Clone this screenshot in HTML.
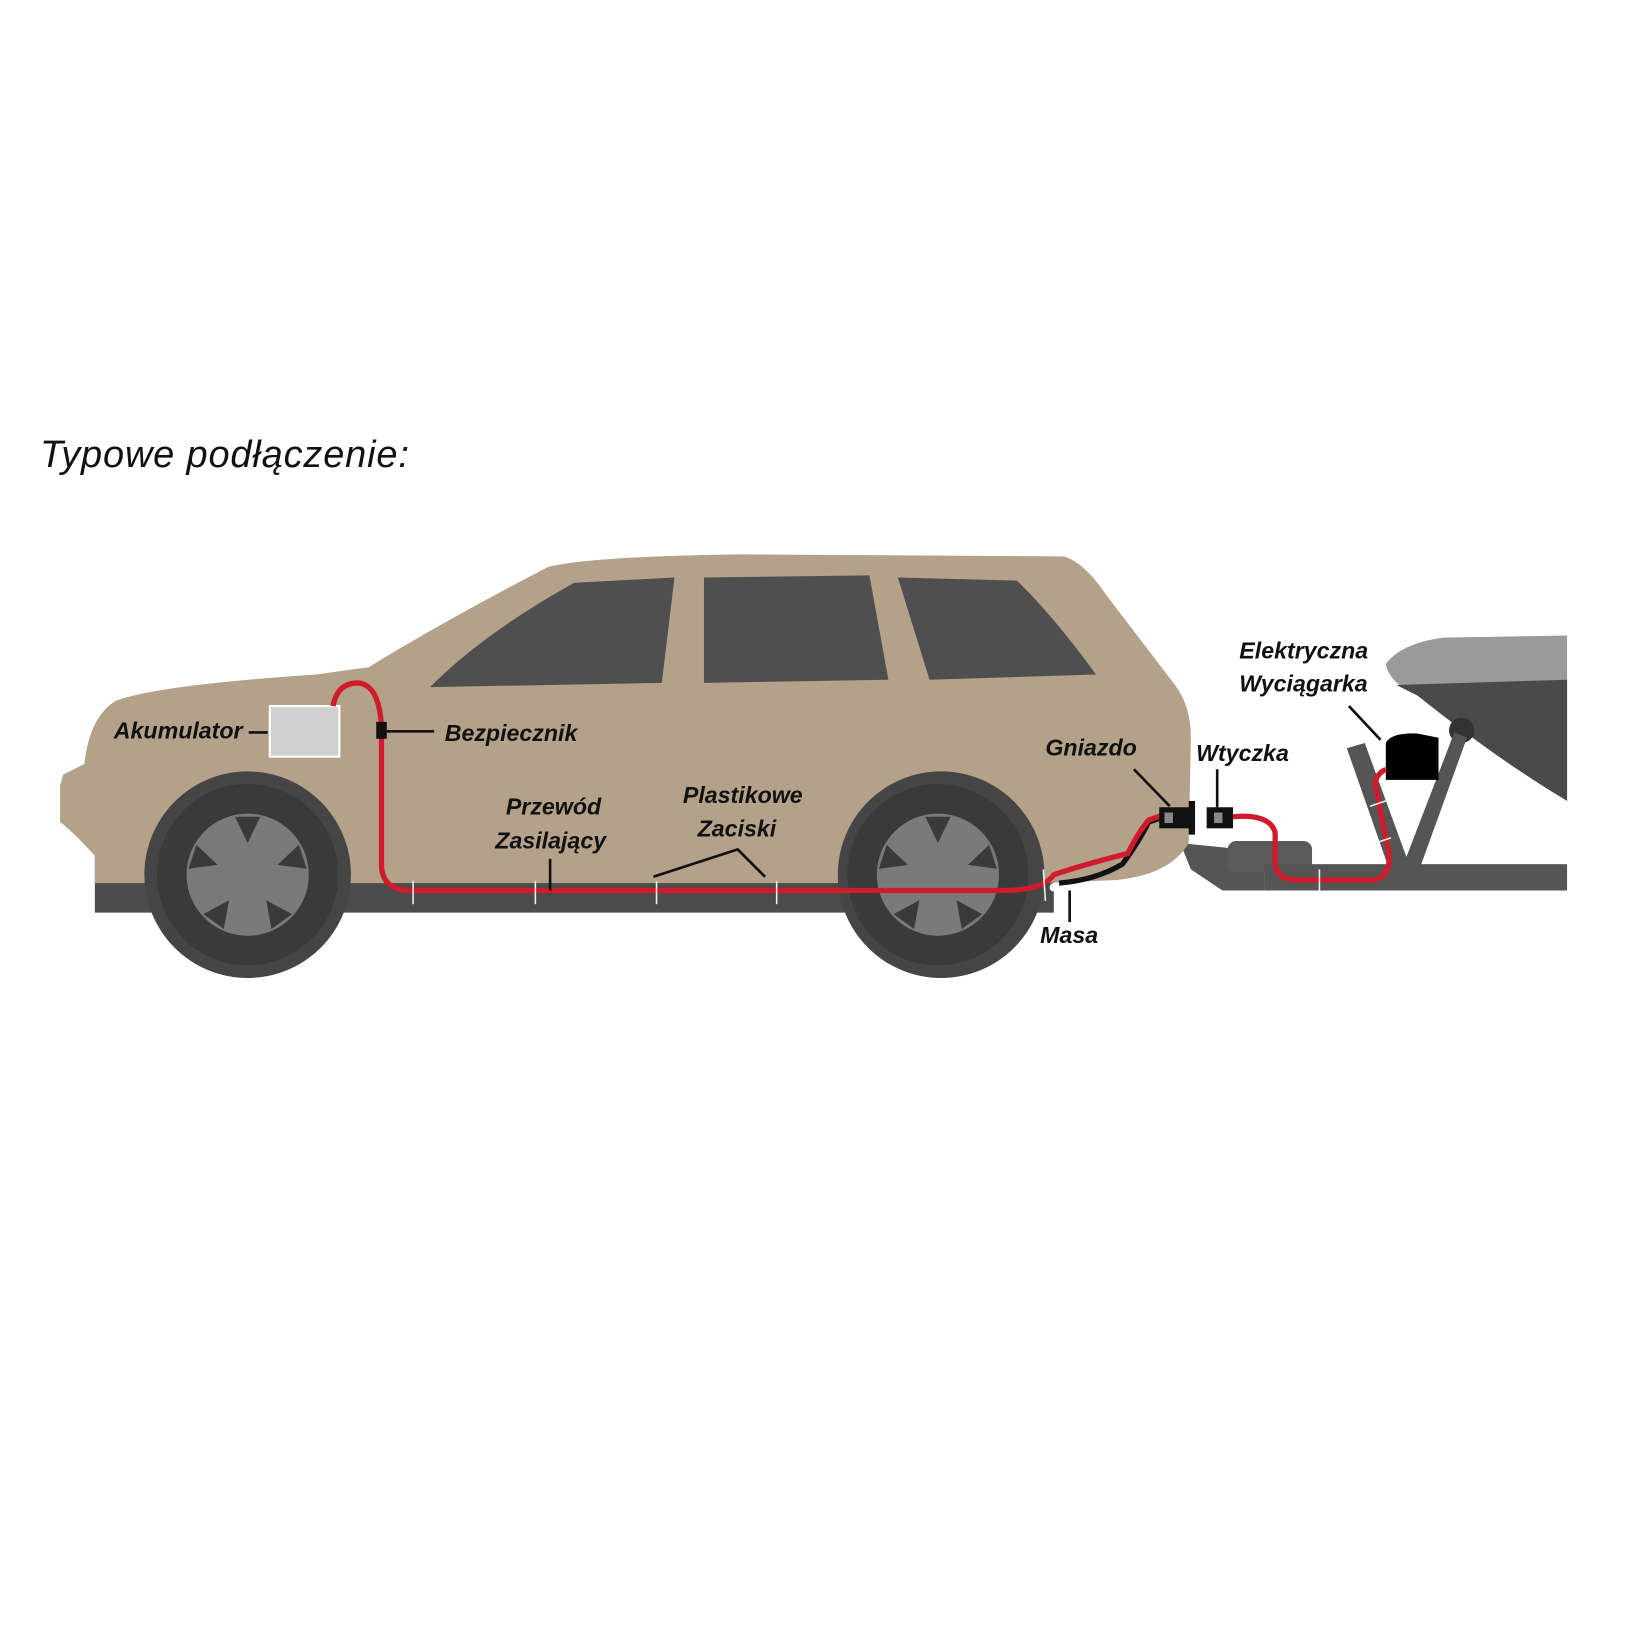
<!DOCTYPE html>
<html><head><meta charset="utf-8"><style>html,body{margin:0;padding:0;background:#fff;width:1644px;height:1644px;overflow:hidden}</style></head>
<body>
<svg width="1644" height="1644" viewBox="0 0 1560 1560" xmlns="http://www.w3.org/2000/svg" font-family="Liberation Sans, sans-serif">
<defs>
<g id="sp" fill="#3a3a3a"><path d="M0 -30 l-12 -25 h24 z"/><path d="M0 -30 l-12 -25 h24 z" transform="rotate(72)"/><path d="M0 -30 l-12 -25 h24 z" transform="rotate(144)"/><path d="M0 -30 l-12 -25 h24 z" transform="rotate(216)"/><path d="M0 -30 l-12 -25 h24 z" transform="rotate(288)"/></g>
</defs>
<text x="38" y="443" font-size="36" font-style="italic" fill="#111" textLength="350">Typowe podłączenie:</text>
<!-- underbody shadow -->
<path d="M90 790 L1000 790 L1000 866 L90 866 Z" fill="#4b4b4b"/>
<!-- trailer hitch -->
<path d="M1120 800 L1170 805 L1200 820 L1200 845 L1160 845 L1130 825 Z" fill="#555"/>
<rect x="1165" y="798" width="80" height="30" rx="8" fill="#5a5a5a"/>
<!-- boat -->
<path d="M1315 630 Q1330 610 1370 605 L1487 603 L1487 760 Q1430 720 1345 660 Q1318 648 1315 630 Z" fill="#9a9a9a"/>
<path d="M1325 650 L1487 645 L1487 760 Q1420 720 1345 660 Z" fill="#4a4a4a"/>
<circle cx="1387" cy="693" r="12" fill="#333"/>
<!-- trailer frame -->
<rect x="1200" y="820" width="287" height="25" fill="#555"/>
<path d="M1278 710 L1295 705 L1340 828 L1320 830 Z" fill="#555"/>
<path d="M1380 695 L1392 700 L1345 830 L1330 825 Z" fill="#555"/>
<path d="M1315 705 Q1320 695 1345 696 L1365 700 L1365 740 L1315 740 Z" fill="#000"/>
<!-- car body -->
<path d="M57 745 L60 735 L80 725 Q85 680 110 665 Q150 650 300 640 L350 633 Q420 590 520 538 Q560 528 700 526 L1010 528 Q1030 535 1050 565 L1115 650 Q1130 670 1130 700 L1128 800 Q1110 830 1060 835 L990 838 L90 838 L90 812 Q70 790 57 780 Z" fill="#b4a189"/>
<!-- wheel wells -->
<circle cx="235" cy="830" r="98" fill="#454545"/>
<circle cx="893" cy="830" r="98" fill="#454545"/>
<!-- windows -->
<path d="M408 652 Q460 600 545 553 L640 548 L628 648 Z" fill="#4f4f4f"/>
<path d="M668 548 L825 546 L843 645 L668 648 Z" fill="#4f4f4f"/>
<path d="M852 548 L965 551 Q1000 585 1040 640 L882 645 Z" fill="#4f4f4f"/>
<!-- wheels -->
<circle cx="235" cy="830" r="86" fill="#3a3a3a"/><circle cx="235" cy="830" r="58" fill="#7a7a7a"/>
<circle cx="890" cy="830" r="86" fill="#3a3a3a"/><circle cx="890" cy="830" r="58" fill="#7a7a7a"/>
<use href="#sp" x="235" y="830"/><use href="#sp" x="890" y="830"/>
<!-- battery -->
<rect x="256" y="670" width="66" height="48" fill="#d0d0d0" stroke="#fff" stroke-width="2"/>
<!-- cables -->
<path d="M1005 838 Q1040 835 1065 820 Q1080 800 1090 780 L1105 775" stroke="#111" stroke-width="5" fill="none"/>
<path d="M316 670 Q320 648 340 648 Q360 650 362 690 L362 820 Q362 845 390 845 L950 845 Q990 845 1000 830 Q1030 820 1070 810 Q1080 790 1090 778 L1105 773" stroke="#d11a2a" stroke-width="5" fill="none"/>
<path d="M1170 775 Q1205 772 1210 790 L1210 820 Q1212 835 1230 835 L1305 835 Q1320 830 1318 810 L1305 745 Q1305 735 1315 730" stroke="#d11a2a" stroke-width="5" fill="none"/>
<g stroke="#eee" stroke-width="1.5"><line x1="392" y1="836" x2="392" y2="858"/><line x1="508" y1="836" x2="508" y2="858"/><line x1="623" y1="836" x2="623" y2="858"/><line x1="737" y1="836" x2="737" y2="858"/><line x1="990" y1="825" x2="992" y2="855"/><line x1="1252" y1="825" x2="1252" y2="845"/><line x1="1300" y1="765" x2="1315" y2="760"/><line x1="1305" y1="800" x2="1320" y2="795"/></g>
<circle cx="1000" cy="842" r="4" fill="#fff"/>
<!-- connectors -->
<rect x="1100" y="766" width="30" height="20" fill="#111"/><rect x="1128" y="760" width="6" height="32" fill="#111"/>
<rect x="1145" y="766" width="25" height="20" fill="#111"/><rect x="1152" y="771" width="8" height="10" fill="#888"/><rect x="1105" y="771" width="8" height="10" fill="#888"/>
<!-- fuse -->
<rect x="357" y="685" width="10" height="16" fill="#111"/>
<!-- leader lines -->
<g stroke="#111" stroke-width="2.5" fill="none">
<line x1="236" y1="695" x2="254" y2="695"/><line x1="367" y1="694" x2="412" y2="694"/>
<line x1="522" y1="815" x2="522" y2="845"/>
<polyline points="620,832 700,806 726,832"/>
<line x1="1076" y1="730" x2="1110" y2="765"/><line x1="1155" y1="730" x2="1155" y2="766"/>
<line x1="1280" y1="670" x2="1310" y2="702"/><line x1="1015" y1="845" x2="1015" y2="875"/>
</g>
<g font-size="22" font-weight="bold" font-style="italic" fill="#111">
<text x="108" y="701">Akumulator</text>
<text x="422" y="703">Bezpiecznik</text>
<text x="480" y="773">Przewód</text>
<text x="470" y="805">Zasilający</text>
<text x="648" y="762">Plastikowe</text>
<text x="662" y="794">Zaciski</text>
<text x="992" y="717">Gniazdo</text>
<text x="1135" y="722">Wtyczka</text>
<text x="1176" y="625">Elektryczna</text>
<text x="1176" y="656">Wyciągarka</text>
<text x="987" y="895">Masa</text>
</g>
</svg>
</body></html>
